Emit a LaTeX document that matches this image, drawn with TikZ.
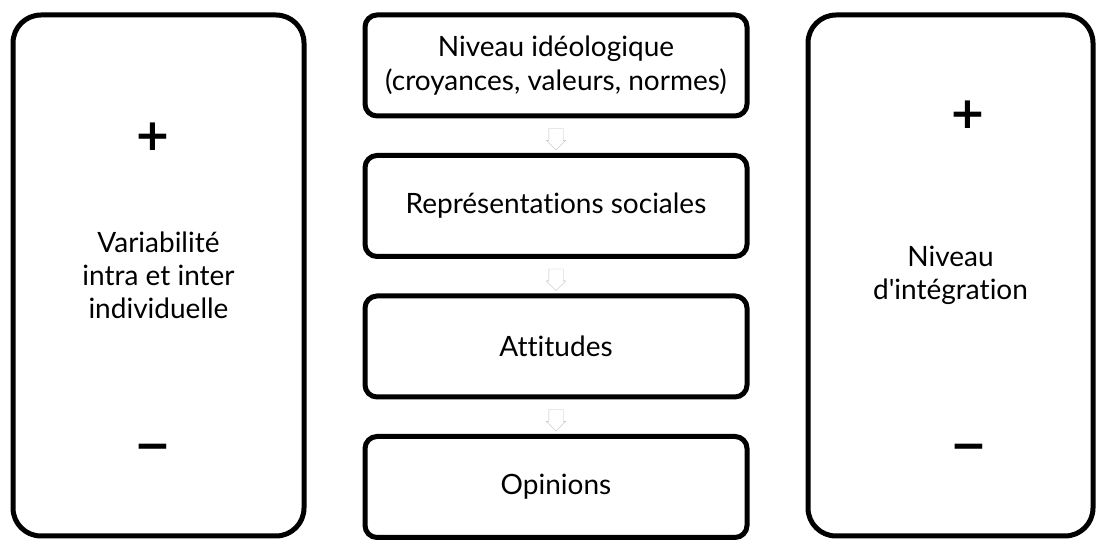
\documentclass[tikz,border=0pt]{standalone}
\usepackage{fontspec}
\setmainfont{Lato}[Ligatures={NoCommon,TeX}]
\newfontfamily\signfont{DejaVu Sans}
\usepackage{tikz}
\usetikzlibrary{positioning,calc,shapes.arrows}
\tikzset{
    %Define style for the side boxes
    sidebox/.style={
           rectangle,
           rounded corners=28pt,
           draw=black, line width=5pt,
           outer sep=0pt,
           minimum height=521pt,
           font=\fontsize{28}{33}\selectfont,
           align=center
           },
    %Define style for the level boxes
    levelbox/.style={
           rectangle,
           rounded corners=12pt,
           draw=black, line width=5pt,
           outer sep=0pt,
           minimum width=382pt,
           minimum height=101pt,
           font=\fontsize{28}{34}\selectfont,
           align=center
           },
    %Define style for the signs
    sign/.style={
           font=\signfont\bfseries\fontsize{44}{44}\selectfont,
           inner sep=0pt
           },
    %Define style for the small block arrows
    downarrow/.style={
           single arrow,
           draw=black!25, thin,
           fill=white,
           rotate=-90,
           inner sep=7pt,
           single arrow head extend=2.5pt,
           minimum height=21pt
           }
}
\begin{document}
\begin{tikzpicture}[x=1pt,y=1pt,node distance=39.5pt]
\useasboundingbox (0,0) rectangle (1100,540);

 %side boxes
\node[sidebox, minimum width=291pt] (var) at (158.5,264.5)
    {Variabilité\\intra et inter\\individuelle};
\node[sidebox, minimum width=285pt] (integ) at (950.5,264.5)
    {Niveau\\d\textquotesingle intégration};

 %signs
\node[sign] (varplus) at (152.5,403) {+};
\node[sign] (varminus) at (153,88) {−};
\node[sign] (integplus) at (968,425) {+};
\node[sign] (integminus) at (969,88) {−};

 %levels
\node[levelbox] (ideo) at (556,474.5) {Niveau idéologique\\(croyances, valeurs, normes)};
\node[levelbox, below=of ideo] (repr) {Représentations sociales};
\node[levelbox, below=of repr] (att) {Attitudes};
\node[levelbox, below=of att] (opin) {Opinions};

 %arrows
\node[downarrow] (a1) at ($(ideo.south)!0.5!(repr.north)$) {};
\node[downarrow] (a2) at ($(repr.south)!0.5!(att.north)$) {};
\node[downarrow] (a3) at ($(att.south)!0.5!(opin.north)$) {};
\end{tikzpicture}
\end{document}
